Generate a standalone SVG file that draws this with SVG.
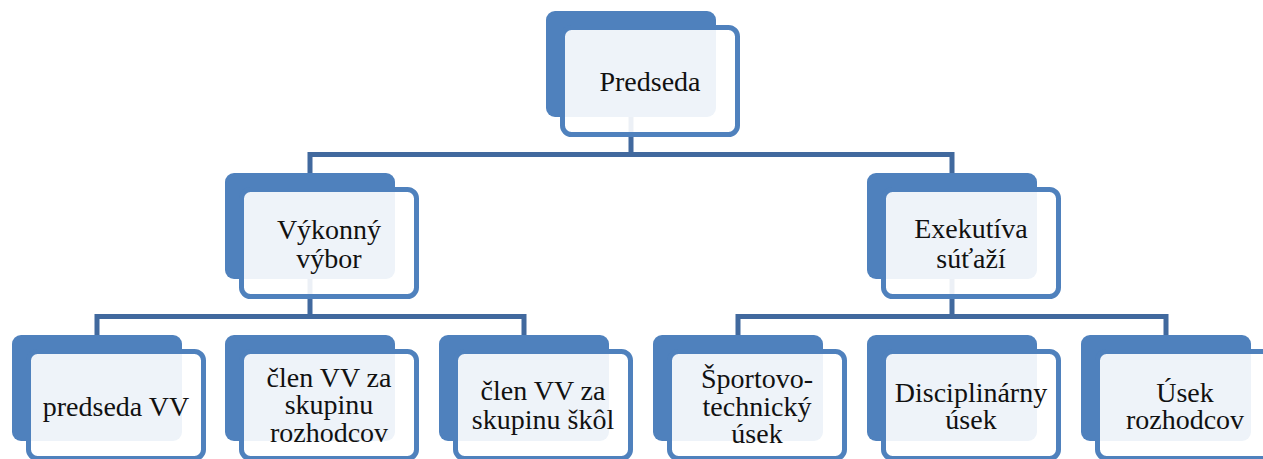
<svg xmlns="http://www.w3.org/2000/svg" width="1263" height="459" viewBox="0 0 1263 459">
<style>
.bg{fill:#ffffff}
.back{fill:#4F81BD}
.front{fill:#ffffff;fill-opacity:0.9;stroke:#4F81BD;stroke-width:5}
.conn{fill:none;stroke:#41699E;stroke-width:5;stroke-linejoin:miter}
.t{font-family:"Liberation Serif","Times New Roman",serif;font-size:28px;fill:#111111;text-anchor:middle}
</style>
<rect class="bg" x="0" y="0" width="1263" height="459"/>
<g id="connectors">
<path class="conn" d="M631,117 V154.5 M310,173 V154.5 H952 V173"/>
<path class="conn" d="M310,278 V316.5 M97,335 V316.5 H524 V335"/>
<path class="conn" d="M952,278 V316.5 M738,335 V316.5 H1166 V335"/>
</g>
<g id="predseda">
<rect class="back" x="546" y="11" width="170" height="106" rx="9"/>
<rect class="front" x="562.5" y="27.5" width="175" height="107" rx="9"/>
<text class="t" x="650" y="91">Predseda</text>
</g>
<g id="vykonny-vybor">
<rect class="back" x="225" y="173" width="170" height="106" rx="9"/>
<rect class="front" x="241.5" y="189.5" width="175" height="107" rx="9"/>
<text class="t" x="329" y="238.5">Výkonný</text>
<text class="t" x="329" y="268">výbor</text>
</g>
<g id="exekutiva">
<rect class="back" x="867" y="173" width="170" height="106" rx="9"/>
<rect class="front" x="883.5" y="189.5" width="175" height="107" rx="9"/>
<text class="t" x="971" y="238">Exekutíva</text>
<text class="t" x="971" y="267.5">súťaží</text>
</g>
<g id="predseda-vv">
<rect class="back" x="12" y="335" width="170" height="106" rx="9"/>
<rect class="front" x="28.5" y="351.5" width="175" height="107" rx="9"/>
<text class="t" x="116" y="416">predseda VV</text>
</g>
<g id="clen-rozhodcov">
<rect class="back" x="225" y="335" width="170" height="106" rx="9"/>
<rect class="front" x="241.5" y="351.5" width="175" height="107" rx="9"/>
<text class="t" x="329" y="387">člen VV za</text>
<text class="t" x="329" y="414">skupinu</text>
<text class="t" x="329" y="442">rozhodcov</text>
</g>
<g id="clen-skol">
<rect class="back" x="439" y="335" width="170" height="106" rx="9"/>
<rect class="front" x="455.5" y="351.5" width="175" height="107" rx="9"/>
<text class="t" x="543" y="400">člen VV za</text>
<text class="t" x="543" y="429">skupinu škôl</text>
</g>
<g id="sportovo-technicky">
<rect class="back" x="653" y="335" width="170" height="106" rx="9"/>
<rect class="front" x="669.5" y="351.5" width="175" height="107" rx="9"/>
<text class="t" x="757" y="388">Športovo-</text>
<text class="t" x="757" y="416">technický</text>
<text class="t" x="757" y="443">úsek</text>
</g>
<g id="disciplinarny">
<rect class="back" x="867" y="335" width="170" height="106" rx="9"/>
<rect class="front" x="883.5" y="351.5" width="175" height="107" rx="9"/>
<text class="t" x="971" y="401.5">Disciplinárny</text>
<text class="t" x="971" y="429">úsek</text>
</g>
<g id="usek-rozhodcov">
<rect class="back" x="1081" y="335" width="170" height="106" rx="9"/>
<rect class="front" x="1097.5" y="351.5" width="175" height="107" rx="9"/>
<text class="t" x="1185" y="401.5">Úsek</text>
<text class="t" x="1185" y="429">rozhodcov</text>
</g>
</svg>
